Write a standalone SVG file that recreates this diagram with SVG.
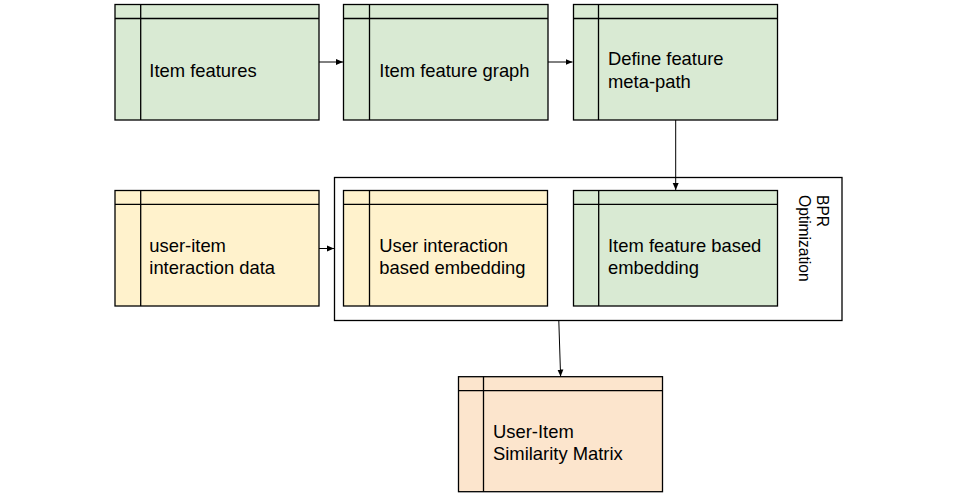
<svg xmlns="http://www.w3.org/2000/svg" width="958" height="497" viewBox="0 0 958 497">
<defs>
<style>
.box{stroke:#000;stroke-width:1.3}
.g{fill:#d9ead3}.y{fill:#fff2cc}.o{fill:#fce5cd}
.ln{stroke:#000;stroke-width:1.3;fill:none}
.t{font-family:"Liberation Sans",Arial,sans-serif;font-size:18.4px;fill:#000}
.c{stroke:#000;stroke-width:1;fill:none;marker-end:url(#ah)}
</style>
<marker id="ah" markerUnits="userSpaceOnUse" markerWidth="8" markerHeight="8" refX="7" refY="3.5" orient="auto">
<path d="M0,0.5 L7,3.5 L0,6.5 z" fill="#000"/>
</marker>
</defs>
<rect width="958" height="497" fill="#fff"/>

<g id="container">
<rect x="334.5" y="177.5" width="507.5" height="143" fill="none" class="box"/>
<text class="t" style="font-size:15.6px" transform="translate(817,195) rotate(90)"><tspan x="0" y="0">BPR</tspan><tspan x="0" y="18">Optimization</tspan></text>
</g>

<g id="n1">
<rect x="115" y="4.5" width="204" height="115.5" class="box g"/>
<path class="ln" d="M115,18.5H319M140.7,4.5V120"/>
<text class="t" x="149.3" y="77">Item features</text>
</g>
<g id="n2">
<rect x="343.5" y="4.5" width="204.5" height="115.5" class="box g"/>
<path class="ln" d="M343.5,18.5H548M369.5,4.5V120"/>
<text class="t" x="379.3" y="77">Item feature graph</text>
</g>
<g id="n3">
<rect x="573.5" y="4.5" width="204" height="115.5" class="box g"/>
<path class="ln" d="M573.5,18.5H777.5M598.5,4.5V120"/>
<text class="t" x="608" y="65">Define feature</text>
<text class="t" x="608" y="87.5">meta-path</text>
</g>
<g id="n4">
<rect x="115" y="190.5" width="204" height="115.5" class="box y"/>
<path class="ln" d="M115,204.3H319M140.7,190.5V306"/>
<text class="t" x="149.3" y="251.7">user-item</text>
<text class="t" x="149.3" y="273.5">interaction data</text>
</g>
<g id="n5">
<rect x="343.5" y="190.5" width="204" height="115.5" class="box y"/>
<path class="ln" d="M343.5,204.3H547.5M369.5,190.5V306"/>
<text class="t" x="379.3" y="251.7">User interaction</text>
<text class="t" x="379.3" y="273.5">based embedding</text>
</g>
<g id="n6">
<rect x="573.5" y="190.5" width="204" height="115.5" class="box g"/>
<path class="ln" d="M573.5,204.3H777.5M598.7,190.5V306"/>
<text class="t" x="608" y="251.7">Item feature based</text>
<text class="t" x="608" y="273.5">embedding</text>
</g>
<g id="n7">
<rect x="458.5" y="376.7" width="204" height="115" class="box o"/>
<path class="ln" d="M458.5,390.7H662.5M483.5,376.7V491.7"/>
<text class="t" x="493" y="438">User-Item</text>
<text class="t" x="493" y="460">Similarity Matrix</text>
</g>

<g id="connectors">
<path class="c" d="M319,62H343"/>
<path class="c" d="M548,62H572.5"/>
<path class="c" d="M675.7,120V190"/>
<path class="c" d="M319,248.5H334"/>
<path class="c" d="M558.8,320.5L560.6,376.5"/>
</g>
</svg>
